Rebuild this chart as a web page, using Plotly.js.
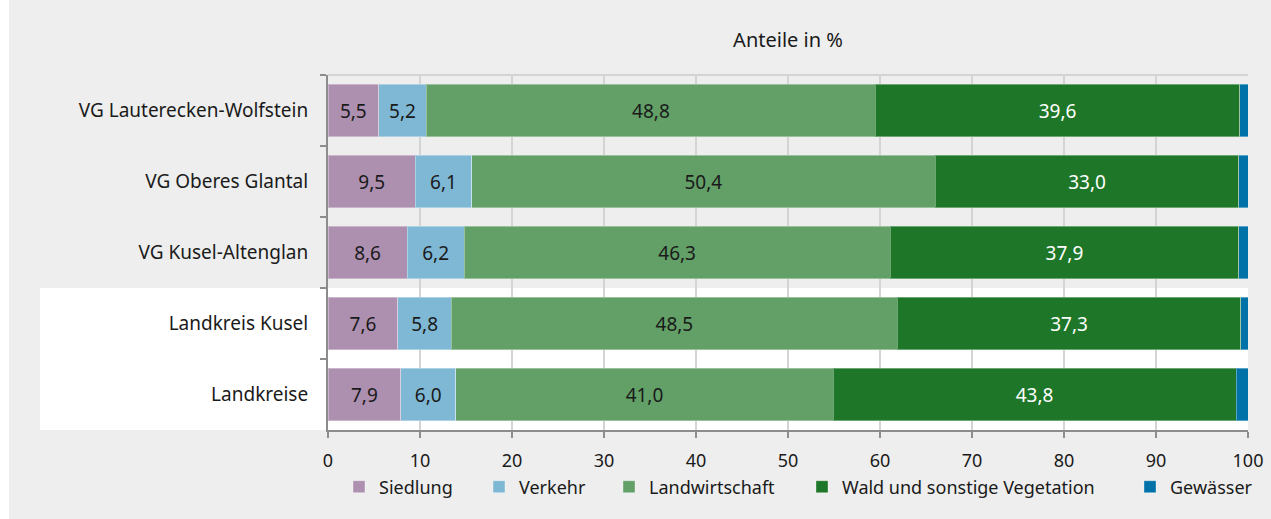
<!DOCTYPE html>
<html>
<head>
<meta charset="utf-8">
<script src="https://cdn.plot.ly/plotly-3.0.1.min.js"></script>
<style>html,body{margin:0;padding:0;background:#edeeed;}</style>
</head>
<body>
<div id="chart" style="width:1271px;height:519px;"></div>
<script>
const categories = ["VG Lauterecken-Wolfstein", "VG Oberes Glantal", "VG Kusel-Altenglan", "Landkreis Kusel", "Landkreise"];
const siedlung = [5.5, 9.5, 8.6, 7.6, 7.9];
const verkehr = [5.2, 6.1, 6.2, 5.8, 6.0];
const landwirtschaft = [48.8, 50.4, 46.3, 48.5, 41.0];
const wald = [39.6, 33.0, 37.9, 37.3, 43.8];
const gewaesser = [0.9, 1.0, 1.0, 0.8, 1.3];
const xTicks = [0, 10, 20, 30, 40, 50, 60, 70, 80, 90, 100];

const FONT = "Noto Sans, Open Sans, sans-serif";
const TXT = "#1a1a1a";
const series = [
  {name: "Siedlung", v: siedlung, c: "#ad8fb0", tc: TXT, lx: 357},
  {name: "Verkehr", v: verkehr, c: "#7fb8d4", tc: TXT, lx: 497},
  {name: "Landwirtschaft", v: landwirtschaft, c: "#62a067", tc: TXT, lx: 627},
  {name: "Wald und sonstige Vegetation", v: wald, c: "#1e7728", tc: "#ffffff", lx: 820},
  {name: "Gewässer", v: gewaesser, c: "#0072a8", tc: TXT, lx: 1148, noText: true}
];

const L = 328, R = 1248, T = 75, B = 430;
const W = R - L, H = B - T;
const px = p => (p - L) / W;
const py = p => (B - p) / H;

const traces = series.map((s, i) => ({
  type: "bar",
  orientation: "h",
  name: s.name,
  y: categories,
  x: s.v,
  width: 0.745,
  marker: {color: s.c, line: {color: "rgba(255,255,255,0.35)", width: 1}},
  texttemplate: s.noText ? "" : "%{x:.1f}",
  textposition: s.noText ? "none" : "inside",
  insidetextanchor: "middle",
  constraintext: "none",
  textangle: 0,
  textfont: {family: FONT, size: 19, color: s.tc},
  hoverinfo: "name+x",
  legend: i === 0 ? "legend" : "legend" + (i + 1)
}));

const layout = {
  width: 1271, height: 519,
  margin: {l: L, r: 1271 - R, t: T, b: 519 - B, pad: 0},
  paper_bgcolor: "#edeeed",
  plot_bgcolor: "rgba(0,0,0,0)",
  separators: ", ",
  barmode: "stack",
  font: {family: FONT, size: 18, color: TXT},
  title: {text: "Anteile in %", x: 0.5, xref: "paper", xanchor: "center", y: 1 - 40 / 519, yref: "container", yanchor: "middle", font: {family: FONT, size: 20, color: TXT}},
  xaxis: {
    range: [0, 100], tickvals: xTicks, ticktext: xTicks.map(String),
    showgrid: true, gridcolor: "#d4d4d4", gridwidth: 2, zeroline: false,
    showline: true, linecolor: "#8c8c8c", linewidth: 2,
    ticks: "outside", ticklen: 6, tickwidth: 2, tickcolor: "#8c8c8c",
    ticklabelstandoff: 7,
    tickfont: {family: FONT, size: 18, color: TXT}, fixedrange: true
  },
  yaxis: {
    type: "category", categoryorder: "array", categoryarray: categories,
    autorange: "reversed",
    showgrid: false, zeroline: false,
    showline: true, linecolor: "#8c8c8c", linewidth: 2,
    ticks: "outside", tickson: "boundaries", ticklen: 6, tickwidth: 2, tickcolor: "#8c8c8c",
    ticklabelstandoff: 14,
    tickfont: {family: FONT, size: 19, color: TXT}, fixedrange: true
  },
  shapes: [
    {type: "rect", layer: "below", xref: "paper", yref: "paper", x0: px(0), x1: px(9), y0: py(519), y1: py(0), fillcolor: "#ffffff", line: {width: 0}},
    {type: "rect", layer: "below", xref: "paper", yref: "y", x0: px(40), x1: 1, y0: 2.5, y1: 4.5, fillcolor: "#ffffff", line: {width: 0}},
    {type: "line", layer: "below", xref: "x", yref: "paper", x0: 0, x1: 100, y0: 1, y1: 1, line: {color: "#d4d4d4", width: 2}}
  ],
  showlegend: true
};

series.forEach((s, i) => {
  const key = i === 0 ? "legend" : "legend" + (i + 1);
  layout[key] = {
    orientation: "h", x: px(s.lx - 18), xanchor: "left", xref: "paper",
    y: py(487), yanchor: "middle", yref: "paper",
    bgcolor: "rgba(0,0,0,0)", borderwidth: 0,
    font: {family: FONT, size: 18, color: TXT}
  };
});

Plotly.newPlot("chart", traces, layout, {displayModeBar: false, staticPlot: true});
</script>
</body>
</html>
